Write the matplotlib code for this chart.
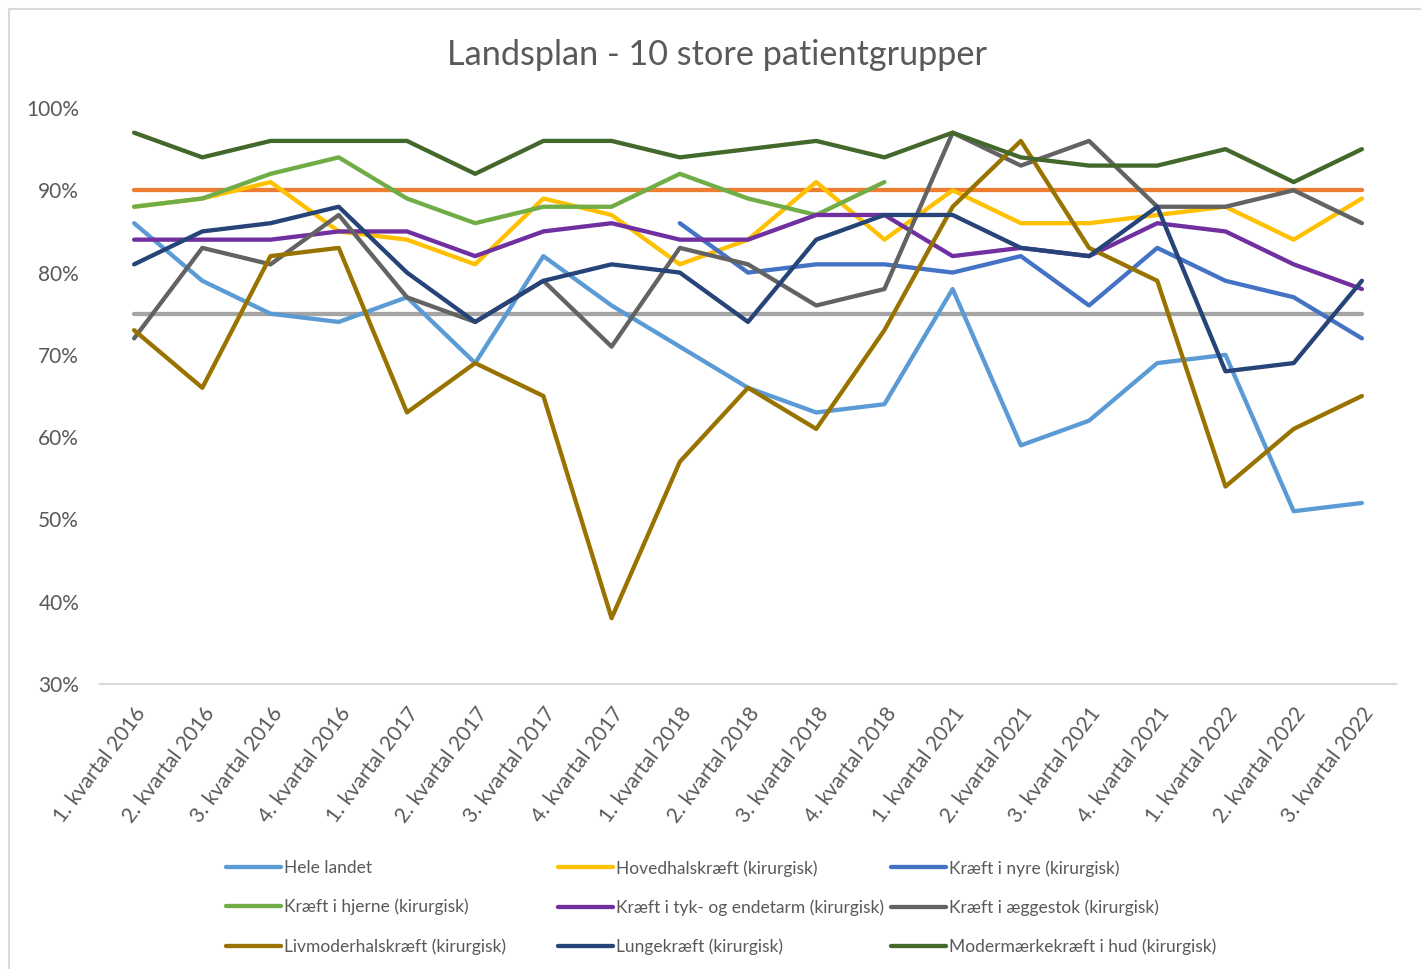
import numpy as np
import matplotlib
matplotlib.use("Agg")
import matplotlib.pyplot as plt
from matplotlib.patches import Rectangle
from matplotlib.ticker import PercentFormatter

plt.rcParams['font.family'] = ['Lato', 'DejaVu Sans']

# kvartaler
quarters = [
    "1. kvartal 2016", "2. kvartal 2016", "3. kvartal 2016", "4. kvartal 2016",
    "1. kvartal 2017", "2. kvartal 2017", "3. kvartal 2017", "4. kvartal 2017",
    "1. kvartal 2018", "2. kvartal 2018", "3. kvartal 2018", "4. kvartal 2018",
    "1. kvartal 2021", "2. kvartal 2021", "3. kvartal 2021", "4. kvartal 2021",
    "1. kvartal 2022", "2. kvartal 2022", "3. kvartal 2022",
]

nan = np.nan
hele_landet = [86, 79, 75, 74, 77, 69, 82, 76, 71, 66, 63, 64, 78, 59, 62, 69, 70, 51, 52]
hovedhals = [88, 89, 91, 85, 84, 81, 89, 87, 81, 84, 91, 84, 90, 86, 86, 87, 88, 84, 89]
nyre = [nan] * 8 + [86, 80, 81, 81, 80, 82, 76, 83, 79, 77, 72]
hjerne = [88, 89, 92, 94, 89, 86, 88, 88, 92, 89, 87, 91] + [nan] * 7
tyk_endetarm = [84, 84, 84, 85, 85, 82, 85, 86, 84, 84, 87, 87, 82, 83, 82, 86, 85, 81, 78]
aeggestok = [72, 83, 81, 87, 77, 74, 79, 71, 83, 81, 76, 78, 97, 93, 96, 88, 88, 90, 86]
livmoderhals = [73, 66, 82, 83, 63, 69, 65, 38, 57, 66, 61, 73, 88, 96, 83, 79, 54, 61, 65]
lunge = [81, 85, 86, 88, 80, 74, 79, 81, 80, 74, 84, 87, 87, 83, 82, 88, 68, 69, 79]
modermaerke = [97, 94, 96, 96, 96, 92, 96, 96, 94, 95, 96, 94, 97, 94, 93, 93, 95, 91, 95]

# maal-linjer
maal_hoej = [90] * len(quarters)
maal_lav = [75] * len(quarters)

series = [
    ("Hele landet", hele_landet, "#5B9BD5"),
    ("Hovedhalskræft (kirurgisk)", hovedhals, "#FFC000"),
    ("Kræft i nyre (kirurgisk)", nyre, "#4472C4"),
    ("Kræft i hjerne (kirurgisk)", hjerne, "#70AD47"),
    ("Kræft i tyk- og endetarm (kirurgisk)", tyk_endetarm, "#7030A0"),
    ("Kræft i æggestok (kirurgisk)", aeggestok, "#636363"),
    ("Livmoderhalskræft (kirurgisk)", livmoderhals, "#997300"),
    ("Lungekræft (kirurgisk)", lunge, "#264478"),
    ("Modermærkekræft i hud (kirurgisk)", modermaerke, "#43682B"),
]

text_col = "#595959"
lw = 3.1

fig = plt.figure(figsize=(14.21, 9.69), dpi=100)
ax = fig.add_axes([100 / 1421, 1 - 684 / 969, 1296 / 1421, 576 / 969])

x = np.arange(len(quarters))
ax.plot(x, maal_hoej, color="#ED7D31", lw=lw, solid_capstyle="round")
ax.plot(x, maal_lav, color="#A5A5A5", lw=lw, solid_capstyle="round")

handles = []
for name, vals, col in series:
    h, = ax.plot(x, vals, color=col, lw=lw, label=name,
                 solid_joinstyle="round", solid_capstyle="round")
    handles.append(h)

ax.set_xlim(-0.5, len(quarters) - 0.5)
ax.set_ylim(30, 100)
ax.set_yticks(np.arange(30, 101, 10))
ax.yaxis.set_major_formatter(PercentFormatter(decimals=0))
ax.set_xticks(x)
ax.set_xticklabels(quarters, rotation=53, ha="right", rotation_mode="anchor")
ax.tick_params(axis="both", length=0, colors=text_col, labelsize=15)
ax.tick_params(axis="y", pad=15)
ax.tick_params(axis="x", pad=14)
for s in ["top", "right", "left"]:
    ax.spines[s].set_visible(False)
ax.spines["bottom"].set_color("#D9D9D9")
ax.spines["bottom"].set_linewidth(1.5)

fig.text(717 / 1421, 1 - 55 / 969, "Landsplan - 10 store patientgrupper",
         ha="center", va="center", fontsize=24.7, color=text_col)

# legenden i tre kolonner med samme bredde
col_x = [226, 558, 891]
for c in range(3):
    leg = fig.legend(handles=[handles[c], handles[c + 3], handles[c + 6]],
                     loc="upper left",
                     bbox_to_anchor=(col_x[c] / 1421, 1 - 860 / 969),
                     frameon=False, fontsize=12.5, labelcolor=text_col,
                     handlelength=3.15, handletextpad=0.2, labelspacing=1.31,
                     borderaxespad=0, borderpad=0)

fig.patches.append(Rectangle((9 / 1421, -0.1), 1.2, 1 - 9 / 969 + 0.1,
                             transform=fig.transFigure, fill=False,
                             edgecolor="#D9D9D9", lw=1.5))

fig.savefig("out.png", dpi=100)
